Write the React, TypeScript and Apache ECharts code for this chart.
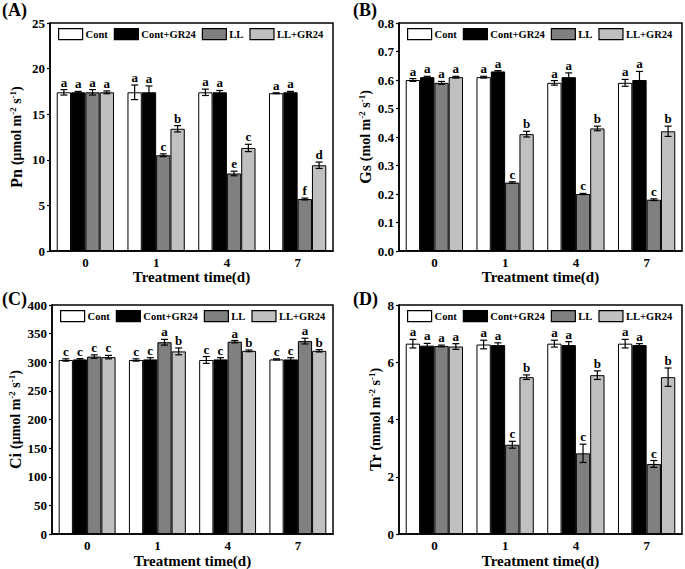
import React, { useEffect, useRef } from 'react';
import * as echarts from 'echarts';

const categories = ['0', '1', '4', '7'];
const seriesNames = ['Cont', 'Cont+GR24', 'LL', 'LL+GR24'];
const seriesColors = ['#ffffff', '#000000', '#808080', '#c0c0c0'];

// Panel A: Pn
const pnMean = [
  [17.4, 17.4, 17.4, 17.3],
  [17.4, 17.4, 17.4, 17.4],
  [17.4, 10.5, 8.5, 5.7],
  [17.4, 13.4, 11.3, 9.4],
];
const pnErr = [
  [0.3, 0.8, 0.35, 0.05],
  [0.1, 0.7, 0.2, 0.1],
  [0.3, 0.15, 0.25, 0.1],
  [0.15, 0.35, 0.4, 0.35],
];
const pnLetters = [
  ['a', 'a', 'a', 'a'],
  ['a', 'a', 'a', 'a'],
  ['a', 'c', 'e', 'f'],
  ['a', 'b', 'c', 'd'],
];

// Panel B: Gs
const gsMean = [
  [0.6, 0.61, 0.59, 0.59],
  [0.61, 0.63, 0.61, 0.6],
  [0.59, 0.24, 0.2, 0.18],
  [0.61, 0.41, 0.43, 0.42],
];
const gsErr = [
  [0.005, 0.003, 0.008, 0.012],
  [0.003, 0.003, 0.015, 0.03],
  [0.005, 0.003, 0.002, 0.003],
  [0.003, 0.01, 0.008, 0.018],
];
const gsLetters = [
  ['a', 'a', 'a', 'a'],
  ['a', 'a', 'a', 'a'],
  ['a', 'c', 'c', 'c'],
  ['a', 'b', 'b', 'b'],
];

// Panel C: Ci
const ciMean = [
  [304, 304, 304, 305],
  [305, 305, 305, 305],
  [310, 335, 336, 337],
  [309, 319, 320, 320],
];
const ciErr = [
  [2, 2, 6, 1],
  [1.5, 3, 3, 3],
  [3, 5, 2, 5],
  [3, 6, 1.5, 2],
];
const ciLetters = [
  ['c', 'c', 'c', 'c'],
  ['c', 'c', 'c', 'c'],
  ['c', 'a', 'a', 'a'],
  ['c', 'b', 'b', 'b'],
];

// Panel D: Tr
const trMean = [
  [6.65, 6.62, 6.65, 6.65],
  [6.58, 6.6, 6.6, 6.6],
  [6.57, 3.12, 2.82, 2.45],
  [6.55, 5.48, 5.55, 5.48],
];
const trErr = [
  [0.15, 0.15, 0.12, 0.15],
  [0.08, 0.08, 0.12, 0.05],
  [0.03, 0.12, 0.32, 0.12],
  [0.1, 0.08, 0.15, 0.32],
];
const trLetters = [
  ['a', 'a', 'a', 'a'],
  ['a', 'a', 'a', 'a'],
  ['a', 'c', 'c', 'c'],
  ['a', 'b', 'b', 'b'],
];

const panelTitles = ['(A)', '(B)', '(C)', '(D)'];
const yNames = ['Pn', 'Gs', 'Ci', 'Tr'];
const yUnits = ['(μmol m', '(mol m', '(μmol m', '(mmol m'];
const yMax = [25, 0.8, 400, 8];
const yInterval = [5, 0.1, 50, 2];
const xName = 'Treatment time(d)';

const FONT = '"Liberation Serif", "Times New Roman", serif';
const CAT_GAP = 0.19;

export default function App() {
  const ref = useRef<HTMLDivElement>(null);

  useEffect(() => {
    if (!ref.current) return;
    const chart = echarts.init(ref.current, undefined, { renderer: 'svg' });

    const means = [pnMean, gsMean, ciMean, trMean];
    const errs = [pnErr, gsErr, ciErr, trErr];
    const letters = [pnLetters, gsLetters, ciLetters, trLetters];

    const grids = [
      { left: 50, top: 23, width: 283, height: 228 },
      { left: 399, top: 23, width: 283, height: 228 },
      { left: 52, top: 305, width: 281, height: 230 },
      { left: 399, top: 305, width: 283, height: 230 },
    ];
    const nameGaps = [26, 23, 27, 12];
    const titlePos = [
      { left: 2, top: 1 },
      { left: 353, top: 1 },
      { left: 2, top: 290 },
      { left: 353, top: 290 },
    ];

    const labelStyle = {
      fontFamily: FONT,
      fontWeight: 'bold' as const,
      fontSize: 13,
      color: '#000',
    };

    const xAxis = grids.map((_, p) => ({
      type: 'category',
      gridIndex: p,
      data: categories,
      name: xName,
      nameLocation: 'middle',
      nameGap: 17,
      nameTextStyle: { fontFamily: FONT, fontWeight: 'bold', fontSize: 15, color: '#000' },
      axisLine: { show: true, lineStyle: { color: '#000', width: 1.5 } },
      axisTick: { show: false },
      axisLabel: { ...labelStyle, margin: 5 },
      splitLine: { show: false },
    }));

    const yAxis = grids.map((_, p) => ({
      type: 'value',
      gridIndex: p,
      min: 0,
      max: yMax[p],
      interval: yInterval[p],
      name: `{m|${yNames[p]} }{p|${yUnits[p]}}{s|-2}{p| s}{s|-1}{p|)}`,
      nameLocation: 'middle',
      nameRotate: 90,
      nameGap: nameGaps[p],
      nameTextStyle: {
        rich: {
          m: { fontFamily: FONT, fontWeight: 'bold', fontSize: 16, color: '#000' },
          p: { fontFamily: FONT, fontWeight: 'bold', fontSize: 14, color: '#000' },
          s: { fontFamily: FONT, fontWeight: 'bold', fontSize: 9, color: '#000', verticalAlign: 'top' },
        },
      },
      axisLine: { show: true, lineStyle: { color: '#000', width: 1.5 } },
      axisTick: { show: true, inside: false, length: 3, lineStyle: { color: '#000', width: 1.2 } },
      axisLabel: {
        ...labelStyle,
        margin: 5,
        formatter: (v: number) => (p === 1 ? v.toFixed(1) : String(Math.round(v))),
      },
      splitLine: { show: false },
    }));

    const series: any[] = [];
    grids.forEach((_, p) => {
      seriesNames.forEach((name, s) => {
        series.push({
          type: 'bar',
          name,
          xAxisIndex: p,
          yAxisIndex: p,
          data: means[p][s],
          barGap: '0%',
          barCategoryGap: `${CAT_GAP * 100}%`,
          itemStyle: { color: seriesColors[s], borderColor: '#000', borderWidth: 1 },
          z: 2,
        });
      });
      seriesNames.forEach((name, s) => {
        series.push({
          type: 'custom',
          name: `err-${p}-${s}`,
          xAxisIndex: p,
          yAxisIndex: p,
          z: 5,
          data: means[p][s].map((v, i) => [i, v, errs[p][s][i]]),
          renderItem: (params: any, api: any) => {
            const idx = api.value(0);
            const v = api.value(1);
            const e = api.value(2);
            const c = api.coord([idx, v]);
            const band = api.size([1, 0])[0];
            const bw = (band * (1 - CAT_GAP)) / 4;
            const x = c[0] + (s - 1.5) * bw;
            const top = api.coord([idx, v + e])[1];
            const bot = api.coord([idx, v - e])[1];
            const cap = 3.5;
            const ls = { stroke: '#000', lineWidth: 1.2 };
            return {
              type: 'group',
              children: [
                { type: 'line', shape: { x1: x, y1: top, x2: x, y2: bot }, style: ls },
                { type: 'line', shape: { x1: x - cap, y1: top, x2: x + cap, y2: top }, style: ls },
                { type: 'line', shape: { x1: x - cap, y1: bot, x2: x + cap, y2: bot }, style: ls },
                {
                  type: 'text',
                  x,
                  y: top - 1,
                  style: {
                    text: letters[p][s][params.dataIndex],
                    align: 'center',
                    verticalAlign: 'bottom',
                    fontFamily: FONT,
                    fontWeight: 'bold',
                    fontSize: 13,
                    fill: '#000',
                  },
                },
              ],
            };
          },
        });
      });
    });

    const legend = grids.map((g) => ({
      left: g.left + 8,
      top: g.top + 5,
      width: 330,
      orient: 'horizontal',
      data: seriesNames,
      icon: 'rect',
      itemWidth: 24,
      itemHeight: 11,
      itemGap: 6,
      padding: 0,
      selectedMode: false,
      itemStyle: { borderColor: '#000', borderWidth: 1.2 },
      textStyle: { fontFamily: FONT, fontWeight: 'bold', fontSize: 10.5, color: '#000', padding: [0, 0, 0, -2] },
    }));

    const graphic = titlePos.map((t, p) => ({
      type: 'text',
      left: t.left,
      top: t.top,
      style: {
        text: panelTitles[p],
        fontFamily: FONT,
        fontWeight: 'bold',
        fontSize: 18,
        fill: '#000',
      },
    }));

    chart.setOption({
      animation: false,
      backgroundColor: '#fff',
      grid: grids.map((g) => ({ ...g, show: true, borderColor: '#000', borderWidth: 1.5, backgroundColor: 'transparent' })),
      xAxis,
      yAxis,
      legend,
      series,
      graphic,
    });

    return () => chart.dispose();
  }, []);

  return (
    <div
      ref={ref}
      style={{ position: 'absolute', left: 0, top: 0, width: 685, height: 569, background: '#fff' }}
    />
  );
}
